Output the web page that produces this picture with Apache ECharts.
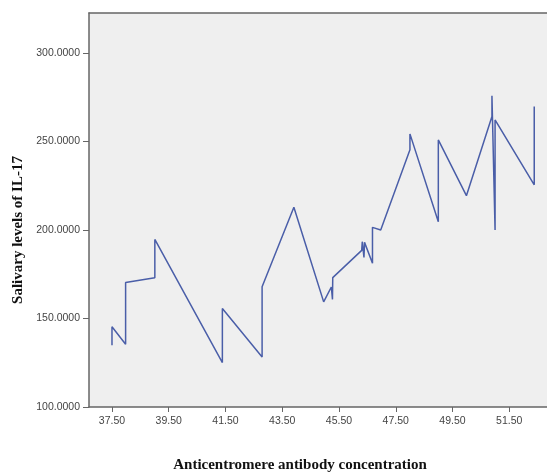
<!DOCTYPE html>
<html>
<head>
<meta charset="utf-8">
<script src="https://cdn.jsdelivr.net/npm/echarts@6/dist/echarts.min.js"></script>
<style>
  html, body { margin: 0; padding: 0; background: #fff; }
  #chart { width: 547px; height: 472px; }
</style>
</head>
<body>
<div id="chart"></div>
<script>
  // antibody concentration (x) and IL-17 level (y)
  let concentration = [37.50, 37.50, 37.98, 37.98, 39.01, 39.01, 41.39, 41.39, 42.79, 42.79, 43.91,
    44.96, 45.23, 45.27, 45.28, 46.30, 46.32, 46.38, 46.40, 46.68, 46.68, 46.97, 48.00, 48.00,
    49.00, 49.00, 49.99, 50.89, 50.89, 51.00, 51.00, 52.38, 52.38]
  let il17 = [134.9, 145.3, 135.5, 170.4, 173.0, 194.7, 125.1, 155.7, 128.3, 167.9, 212.8,
    159.4, 167.8, 160.8, 173.1, 188.5, 193.4, 184.5, 193.0, 181.2, 201.5, 200.0, 245.3, 254.3,
    204.7, 250.9, 219.4, 264.1, 275.8, 200.0, 262.2, 225.5, 269.8]
  let xTicks = [37.5, 39.5, 41.5, 43.5, 45.5, 47.5, 49.5, 51.5]
  let yTicks = [100, 150, 200, 250, 300]

  let points = concentration.map((x, i) => [x, il17[i]])
  let axisColor = '#666'
  let labelStyle = { color: '#444', fontSize: 10.5, fontFamily: 'Liberation Sans, Arial, sans-serif' }

  echarts.init(document.getElementById('chart')).setOption({
    animation: false,
    grid: {
      left: 89,
      right: 0,
      top: 13,
      bottom: 65,
      outerBoundsMode: 'none',
      containLabel: false,
      show: true,
      backgroundColor: '#efefef',
      borderWidth: 0
    },
    xAxis: [
      {
        type: 'value',
        min: 36.69,
        max: 52.83,
        name: 'Anticentromere antibody concentration',
        nameLocation: 'middle',
        nameGap: 51,
        nameTextStyle: {
          color: '#111',
          fontSize: 15,
          fontWeight: 'bold',
          fontFamily: 'Liberation Serif, Times New Roman, serif',
          padding: [0, 0, 0, -36]
        },
        splitLine: { show: false },
        axisLine: { show: true, lineStyle: { color: axisColor, width: 1.5 } },
        axisTick: { show: true, length: 5, customValues: xTicks, lineStyle: { color: axisColor } },
        axisLabel: {
          ...labelStyle,
          margin: 9,
          customValues: xTicks,
          formatter: v => v.toFixed(2)
        }
      },
      {
        type: 'value',
        position: 'top',
        min: 36.69,
        max: 52.83,
        splitLine: { show: false },
        axisLine: { show: true, lineStyle: { color: axisColor, width: 1.5 } },
        axisTick: { show: false },
        axisLabel: { show: false }
      }
    ],
    yAxis: {
      type: 'value',
      min: 100,
      max: 322.6,
      name: 'Salivary levels of IL-17',
      nameLocation: 'middle',
      nameGap: 63,
      nameTextStyle: {
        color: '#111',
        fontSize: 15,
        fontWeight: 'bold',
        fontFamily: 'Liberation Serif, Times New Roman, serif',
        padding: [0, 40, 0, 0]
      },
      splitLine: { show: false },
      axisLine: { show: true, lineStyle: { color: axisColor, width: 1.5 } },
      axisTick: { show: true, length: 6, customValues: yTicks, lineStyle: { color: axisColor } },
      axisLabel: {
        ...labelStyle,
        margin: 9,
        customValues: yTicks,
        formatter: v => v.toFixed(4)
      }
    },
    series: [
      {
        type: 'line',
        data: points,
        symbol: 'none',
        lineStyle: { color: '#4a5ea8', width: 1.5 }
      }
    ]
  })
</script>
</body>
</html>
